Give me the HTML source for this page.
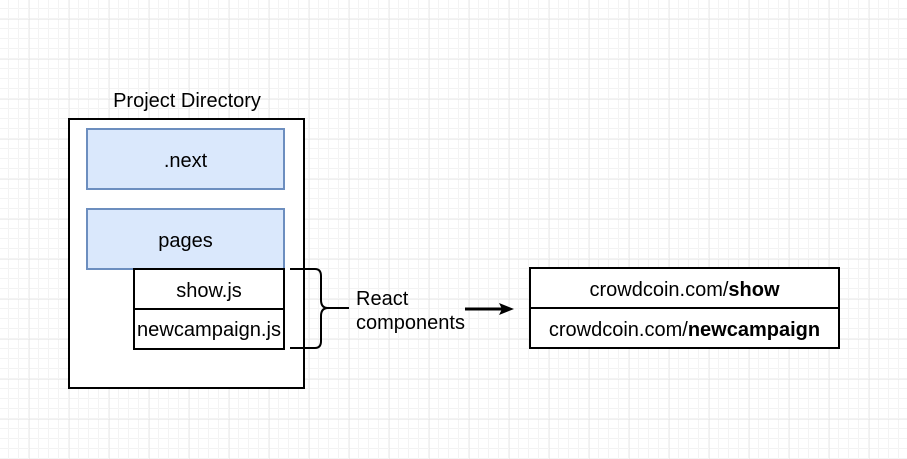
<!DOCTYPE html>
<html><head><meta charset="utf-8"><style>
html,body{margin:0;padding:0;background:#fff;}
svg{display:block;}
text{font-family:"Liberation Sans",Arial,sans-serif;font-size:20px;fill:#000;}
</style></head><body>
<svg width="907" height="459" viewBox="0 0 907 459" xmlns="http://www.w3.org/2000/svg">
<defs>
<pattern id="minor" x="-1" y="-1" width="10" height="10" patternUnits="userSpaceOnUse">
<path d="M10 0V10M0 10H10" stroke="#f3f3f3" stroke-width="1" fill="none" transform="translate(-0.5,-0.5)"/>
</pattern>
<pattern id="major" x="29.5" y="19.5" width="40" height="40" patternUnits="userSpaceOnUse">
<path d="M0 0V40M0 0H40" stroke="#e0e0e0" stroke-width="1" fill="none"/>
</pattern>
</defs>
<rect width="907" height="459" fill="url(#minor)"/>
<rect width="907" height="459" fill="url(#major)"/>

<text x="187" y="107" text-anchor="middle">Project Directory</text>
<rect x="69" y="119" width="235" height="269" fill="#fff" stroke="#000" stroke-width="2"/>
<rect x="87" y="129" width="197" height="60" fill="#dae8fc" stroke="#6c8ebf" stroke-width="2"/>
<text x="185.5" y="167" text-anchor="middle">.next</text>
<rect x="87" y="209" width="197" height="60" fill="#dae8fc" stroke="#6c8ebf" stroke-width="2"/>
<text x="185.5" y="247" text-anchor="middle">pages</text>
<rect x="134" y="269" width="150" height="40" fill="#fff" stroke="#000" stroke-width="2"/>
<text x="209" y="297" text-anchor="middle">show.js</text>
<rect x="134" y="309" width="150" height="40" fill="#fff" stroke="#000" stroke-width="2"/>
<text x="209" y="336" text-anchor="middle" textLength="144" lengthAdjust="spacingAndGlyphs">newcampaign.js</text>

<path d="M290 269 H315 Q321 269 321 276 V300 Q321 308 328 308 H349 M328 308 Q321 308 321 316 V341 Q321 348 315 348 H290" fill="none" stroke="#000" stroke-width="2"/>
<text x="356" y="305">React</text>
<text x="356" y="329">components</text>

<line x1="465" y1="309" x2="502" y2="309" stroke="#000" stroke-width="3"/>
<polygon points="514,309 499,303 502,309 499,315" fill="#000"/>

<rect x="530" y="268" width="309" height="80" fill="#fff" stroke="#000" stroke-width="2"/>
<line x1="530" y1="308" x2="839" y2="308" stroke="#000" stroke-width="2"/>
<text x="684.5" y="296" text-anchor="middle">crowdcoin.com/<tspan font-weight="bold">show</tspan></text>
<text x="684.5" y="336" text-anchor="middle">crowdcoin.com/<tspan font-weight="bold">newcampaign</tspan></text>
</svg>
</body></html>
